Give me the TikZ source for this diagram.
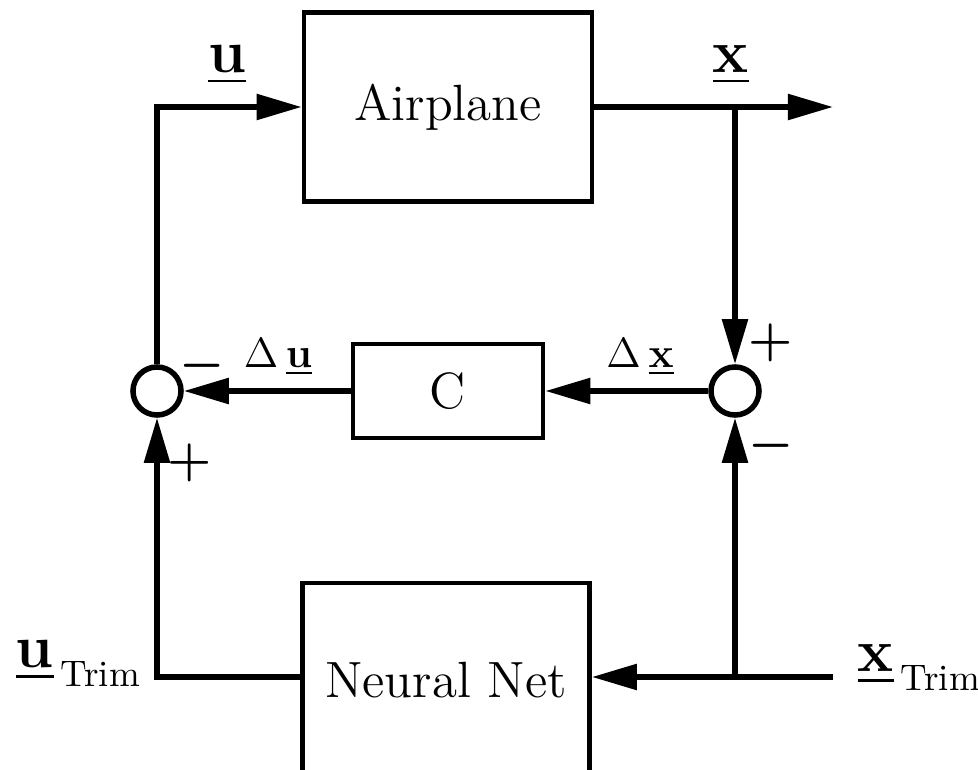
\documentclass[tikz,border=0pt]{standalone}
\usepackage{amsmath}
\usetikzlibrary{arrows.meta}

\newcommand{\uvec}[1]{$\underline{\mathbf{#1}}$}
\newcommand{\trimlabel}[1]{\uvec{#1}\hspace{0.07cm}\raisebox{-0.18cm}{\fontsize{10.5}{12}\selectfont Trim}}

\begin{document}
\begin{tikzpicture}[
    x=0.01cm, y=-0.01cm,
    block/.style={
        draw, line width=0.045cm, inner sep=0pt,
        font=\fontsize{14.5}{17}\selectfont
    },
    sumnode/.style={draw, circle, line width=0.055cm, minimum size=0.48cm, inner sep=0pt},
    arrow/.style={-{Triangle[length=0.45cm, width=0.25cm]}, line width=0.055cm},
    lbl/.style={inner sep=0pt, font=\fontsize{18}{20}\selectfont},
    dlbl/.style={inner sep=0pt, font=\fontsize{13}{15}\selectfont},
    sign/.style={inner sep=0pt, font=\fontsize{14}{16}\selectfont}
]
  \useasboundingbox (0,0) rectangle (978,770);

  % Blocks
  \node[block, minimum width=2.88cm, minimum height=1.89cm] (plane) at (448,107) {Airplane};
  \node[block, minimum width=1.90cm, minimum height=0.94cm] (ctrl)  at (448,391) {C};
  \node[block, minimum width=2.87cm, minimum height=1.94cm] (nnet)  at (446,680) {Neural Net};

  % Summing junctions
  \node[sumnode] (sumL) at (157,391) {};
  \node[sumnode] (sumR) at (735,391) {};

  % Free ends and branch points
  \coordinate (xout)   at (833,107);
  \coordinate (xsplit) at (735,107);
  \coordinate (xtrim)  at (833,677);
  \coordinate (tsplit) at (735,677);

  % Signal flow
  \draw[arrow] (sumL.north) |- (plane.west);
  \draw[arrow] (plane.east) -- (xout);
  \draw[arrow] (xsplit) -- (sumR.north);
  \draw[arrow] (sumR.west) -- (ctrl.east);
  \draw[arrow] (ctrl.west) -- (sumL.east);
  \draw[arrow] (nnet.west |- tsplit) -| (sumL.south);
  \draw[arrow] (xtrim) -- (nnet.east |- xtrim);
  \draw[arrow] (tsplit) -- (sumR.south);

  % Signal labels
  \node[lbl] (ulbl) at (227,65) {\uvec{u}};
  \node[lbl] (xlbl) at (731,65) {\uvec{x}};
  \node[dlbl] (dulbl) at (278,357) {$\Delta$\,\uvec{u}};
  \node[dlbl] (dxlbl) at (640,357) {$\Delta$\,\uvec{x}};
  \node[lbl, anchor=base west] (utrim) at (15,668) {\trimlabel{u}};
  \node[lbl, anchor=base west] (xtrimlbl) at (857,672) {\trimlabel{x}};

  % Signs
  \node[sign] (mL) at (202,366) {$\boldsymbol{-}$};
  \node[sign] (pL) at (190,463) {$\boldsymbol{+}$};
  \node[sign] (pR) at (771,343) {$\boldsymbol{+}$};
  \node[sign] (mR) at (771,446) {$\boldsymbol{-}$};
\end{tikzpicture}
\end{document}
